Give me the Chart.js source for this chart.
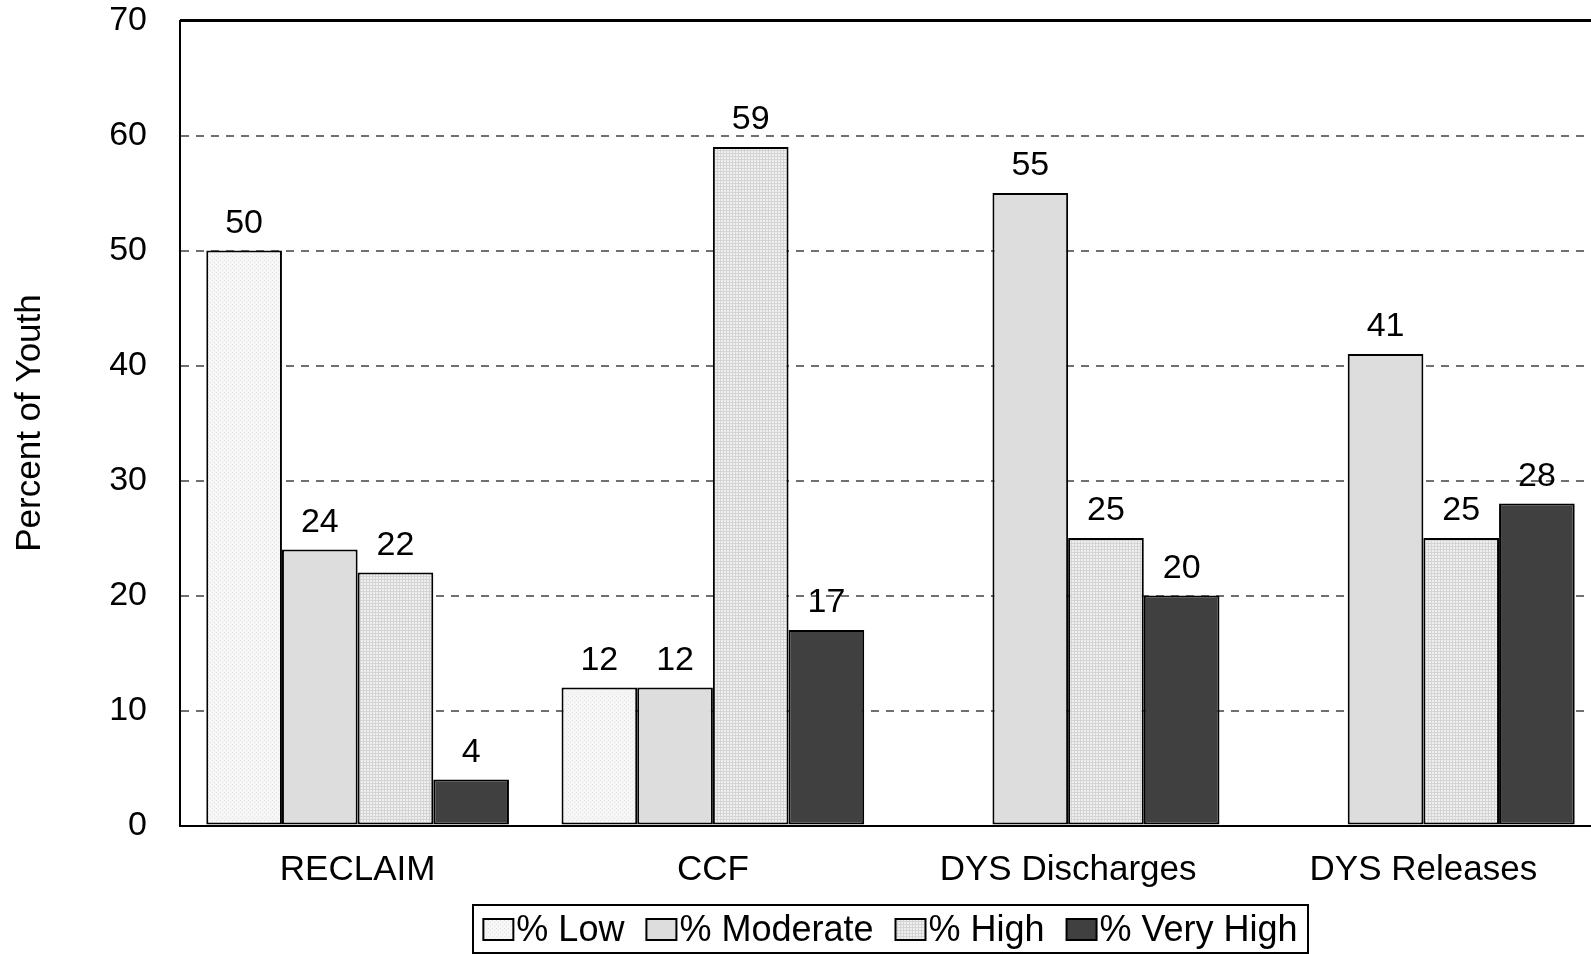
<!DOCTYPE html>
<html>
<head>
<meta charset="utf-8">
<script src="https://cdn.jsdelivr.net/npm/chart.js@4/dist/chart.umd.min.js"></script>
<style>
    html, body { margin: 0; padding: 0; background: #fff; overflow: hidden; }
    #wrap { width: 1601px; height: 954px; }
</style>
</head>
<body>
<div id="wrap"><canvas id="riskChart"></canvas></div>
<script>
// Chart data
const categories = ['RECLAIM', 'CCF', 'DYS Discharges', 'DYS Releases'];
const seriesNames = ['% Low', '% Moderate', '% High', '% Very High'];
const lowValues = [50, 12, null, null];
const moderateValues = [24, 12, 55, 41];
const highValues = [22, 59, 25, 25];
const veryHighValues = [4, 17, 20, 28];
const yTicks = [0, 10, 20, 30, 40, 50, 60, 70];

const FONT = '"Liberation Sans", Arial, sans-serif';

// small tile patterns for the grey fills
function makePattern(size, base, dot, drawFn) {
    const c = document.createElement('canvas');
    c.width = size; c.height = size;
    const g = c.getContext('2d');
    g.fillStyle = base;
    g.fillRect(0, 0, size, size);
    g.fillStyle = dot;
    drawFn(g);
    return g.createPattern(c, 'repeat');
}

const lowFill = makePattern(4, '#f6f6f6', '#e4e4e4', function (g) {
    g.fillRect(0, 0, 1, 1);
    g.fillRect(2, 2, 1, 1);
});
const highFill = makePattern(3, '#efefef', '#d4d4d4', function (g) {
    g.fillRect(0, 0, 3, 1);
    g.fillRect(0, 0, 1, 3);
});
const fills = [lowFill, '#dddddd', highFill, '#404040'];

// Value labels above each bar
const valueLabels = {
    id: 'valueLabels',
    afterDatasetsDraw(chart) {
        const ctx = chart.ctx;
        ctx.save();
        ctx.font = '34px ' + FONT;
        ctx.fillStyle = '#000';
        ctx.textAlign = 'center';
        ctx.textBaseline = 'alphabetic';
        chart.data.datasets.forEach(function (ds, i) {
            const meta = chart.getDatasetMeta(i);
            meta.data.forEach(function (bar, j) {
                const v = ds.data[j];
                if (v === null || v === undefined) return;
                ctx.fillText(String(v), bar.x, bar.y - 18);
            });
        });
        ctx.restore();
    }
};

// Top frame line and boxed legend at the bottom
const frameAndLegend = {
    id: 'frameAndLegend',
    afterDraw(chart) {
        const ctx = chart.ctx;
        const area = chart.chartArea;
        ctx.save();
        ctx.strokeStyle = '#000';
        ctx.lineWidth = 3;
        ctx.beginPath();
        ctx.moveTo(area.left, area.top);
        ctx.lineTo(area.right, area.top);
        ctx.stroke();

        // legend
        ctx.font = '36px ' + FONT;
        const boxW = 30, boxH = 21, textGap = 3, itemGap = 22;
        const widths = seriesNames.map(n => ctx.measureText(n).width);
        let total = itemGap * (seriesNames.length - 1);
        widths.forEach(w => { total += boxW + textGap + w; });
        const frameLeft = 473, frameRight = 1308, frameTop = 905, frameBottom = 953;
        ctx.lineWidth = 2;
        ctx.strokeRect(frameLeft, frameTop, frameRight - frameLeft, frameBottom - frameTop);

        let x = (frameLeft + frameRight) / 2 - total / 2;
        const baseline = 940.5;
        ctx.textBaseline = 'alphabetic';
        ctx.textAlign = 'left';
        seriesNames.forEach(function (name, i) {
            ctx.fillStyle = fills[i];
            ctx.fillRect(x, 919, boxW, boxH);
            ctx.lineWidth = 2;
            ctx.strokeStyle = '#000';
            ctx.strokeRect(x, 919, boxW, boxH);
            ctx.fillStyle = '#000';
            ctx.fillText(name, x + boxW + textGap, baseline);
            x += boxW + textGap + widths[i] + itemGap;
        });
        ctx.restore();
    }
};

const allValues = [lowValues, moderateValues, highValues, veryHighValues];

const ctx = document.getElementById('riskChart').getContext('2d');
new Chart(ctx, {
    type: 'bar',
    data: {
        labels: categories,
        datasets: seriesNames.map(function (name, i) {
            return {
                label: name,
                data: allValues[i],
                backgroundColor: fills[i],
                borderColor: '#000',
                borderWidth: 2,
                borderSkipped: false,
                categoryPercentage: 0.852,
                barPercentage: 1.0
            };
        })
    },
    options: {
        responsive: true,
        maintainAspectRatio: false,
        devicePixelRatio: 1,
        animation: false,
        layout: { padding: { top: 0, right: 0, bottom: 0, left: 0 } },
        plugins: {
            legend: { display: false },
            tooltip: { enabled: false }
        },
        scales: {
            x: {
                grid: { display: false, drawTicks: false },
                border: { display: true, color: '#000', width: 2 },
                ticks: {
                    color: '#000',
                    font: { family: FONT, size: 35 },
                    padding: 24,
                    maxRotation: 0
                },
                afterFit(scale) { scale.height = 128.5; }
            },
            y: {
                min: yTicks[0],
                max: yTicks[yTicks.length - 1],
                afterBuildTicks(scale) {
                    scale.ticks = yTicks.map(v => ({ value: v }));
                },
                grid: {
                    drawTicks: false,
                    lineWidth: 2,
                    color: function (c) {
                        const v = c.tick ? c.tick.value : null;
                        return (v === 0 || v === 70) ? 'rgba(0,0,0,0)' : '#707070';
                    }
                },
                border: { display: true, color: '#000', width: 2, dash: [8, 7] },
                ticks: {
                    color: '#000',
                    font: { family: FONT, size: 34 },
                    padding: 33
                },
                title: {
                    display: true,
                    text: 'Percent of Youth',
                    color: '#000',
                    font: { family: FONT, size: 35 },
                    padding: { top: 9, bottom: 0 }
                },
                afterFit(scale) {
                    scale.width = 180;
                    scale.paddingTop = 20.5;
                    scale.paddingBottom = 0;
                }
            }
        }
    },
    plugins: [valueLabels, frameAndLegend]
});
</script>
</body>
</html>
